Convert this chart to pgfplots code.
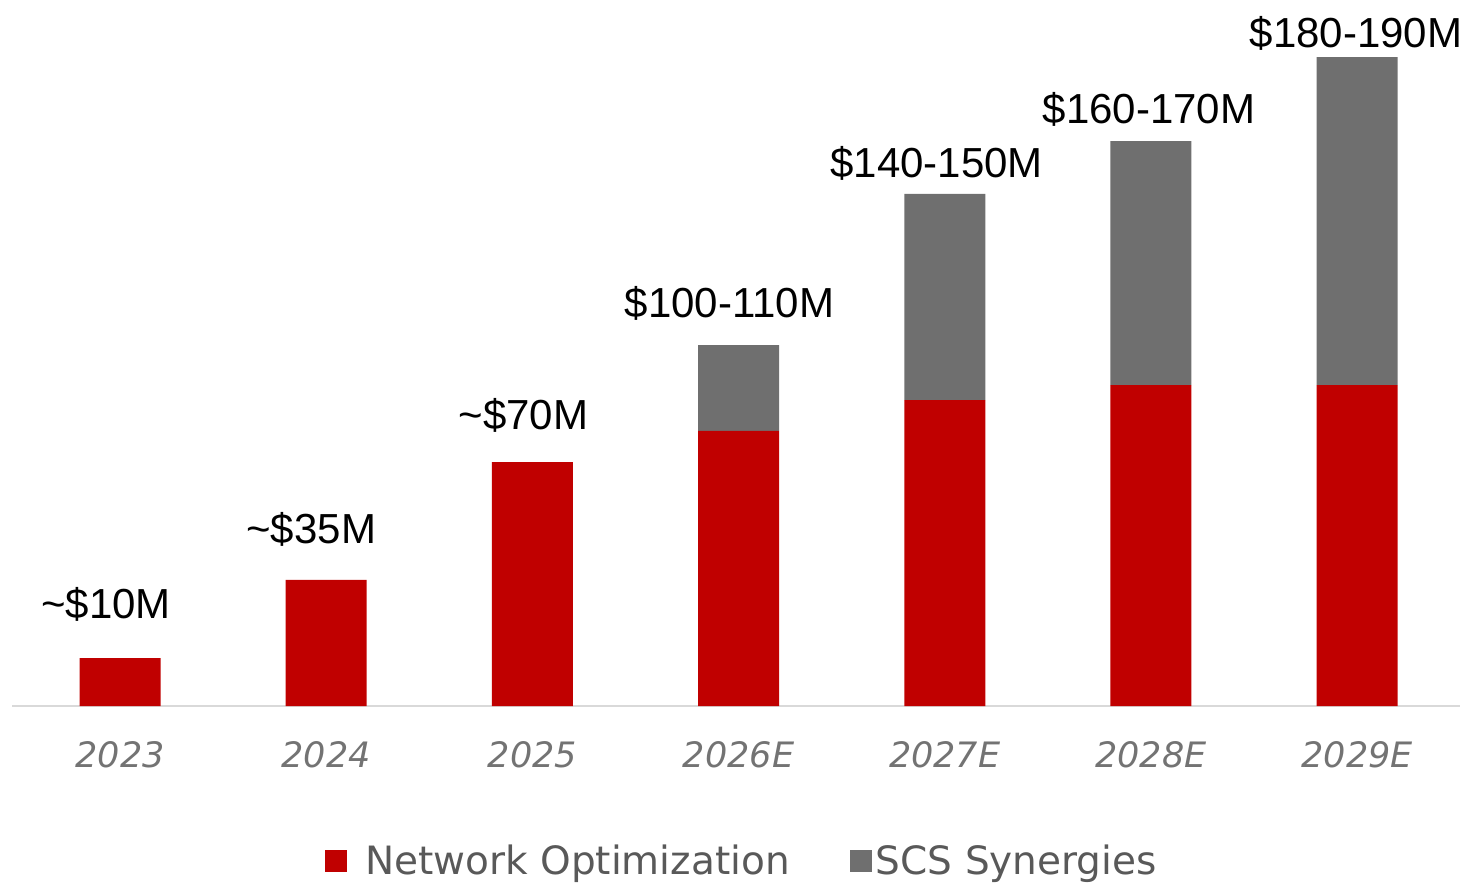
\documentclass[border=0pt]{standalone}
\usepackage{pgfplots}
\pgfplotsset{compat=1.18}
\usepackage{pgfplotstable}
\usepackage{fontspec}
\setmainfont{Liberation Sans}
\newfontfamily\dv{DejaVu Sans}
\definecolor{netred}{HTML}{C00000}
\definecolor{scsgrey}{HTML}{6F6F6F}
\definecolor{ticktext}{HTML}{737373}
\definecolor{legtext}{HTML}{595959}
\definecolor{baseline}{HTML}{D9D9D9}

% values in $M; gap = invisible spacer that lifts each label off the bar
\pgfplotstableread{
x net scs gap lab
0 13.7 0 22.8 {\textasciitilde\$10M\kern14pt}
1 36.0 0 20.6 {\textasciitilde\$35M\kern15pt}
2 69.7 0 18.8 {\textasciitilde\$70M\kern9pt}
3 78.6 24.5 16.0 {\$100-110M\kern9pt}
4 87.4 58.9 9.2 {\$140-150M\kern8pt}
5 91.7 69.7 10.2 {\$160-170M\kern2pt}
6 91.7 93.7 5.2 {\$180-190M\kern1pt}
}\savings

\begin{document}
\begin{tikzpicture}
\useasboundingbox (-6pt,-89.5pt) rectangle (728pt,353pt);
\begin{axis}[
    scale only axis, width=724pt, height=353pt,
    xmin=-0.524, xmax=6.499, ymin=0, ymax=201.7,
    ybar stacked, bar width=40.5pt,
    axis x line*=bottom, axis y line=none,
    x axis line style={draw=baseline, line width=1pt, -},
    xtick={0,...,6},
    xticklabels={2023,2024,2025,2026E,2027E,2028E,2029E},
    major tick length=0pt, ytick=\empty,
    xticklabel style={anchor=base, yshift=-30.5pt,
        font=\dv\itshape\fontsize{17.5}{20}\selectfont, text=ticktext},
    clip=false,
    legend columns=2,
    legend style={draw=none, fill=none, at={(0.216,-0.2203)}, anchor=west,
        inner sep=0pt, nodes={inner sep=0pt},
        font=\dv\fontsize{19.5}{23}\selectfont, text=legtext,
        /tikz/every even column/.append style={column sep=30pt}},
]
\addplot[fill=netred, draw=none,
    legend image code/.code={
        \fill[netred] (0pt,-5pt) rectangle (11pt,6pt);
        \path[draw=none, fill=none] (11pt,0pt) -- (20pt,0pt);}]
    table[x=x, y=net] {\savings};
\addlegendentry{Network Optimization}
\addplot[fill=scsgrey, draw=none,
    legend image code/.code={
        \fill[scsgrey] (0pt,-5pt) rectangle (11pt,6pt);
        \path[draw=none, fill=none] (11pt,0pt) -- (13pt,0pt);}]
    table[x=x, y=scs] {\savings};
\addlegendentry{SCS Synergies}
% invisible spacer on top of the stack carries the value labels
\addplot[draw=none, fill=none, forget plot,
    nodes near coords, point meta=explicit symbolic,
    nodes near coords style={anchor=base, inner sep=0pt,
        font=\fontsize{21}{24}\selectfont, text=black}]
    table[x=x, y=gap, meta=lab] {\savings};
\end{axis}
\end{tikzpicture}
\end{document}
